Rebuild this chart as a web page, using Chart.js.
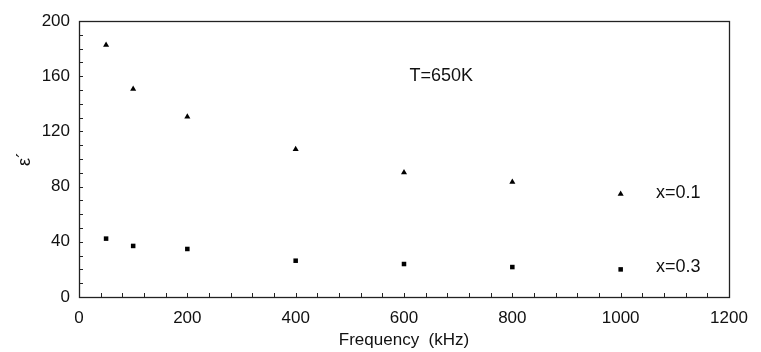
<!DOCTYPE html>
<html>
<head>
<meta charset="utf-8">
<script src="https://cdn.jsdelivr.net/npm/chart.js@4/dist/chart.umd.min.js"></script>
<style>
html,body{margin:0;padding:0;background:#fff;}
#wrap{width:761px;height:352px;position:relative;}
</style>
</head>
<body>
<div id="wrap"><canvas id="c" width="761" height="352"></canvas></div>
<script>
// Data
const frequencies = [50, 100, 200, 400, 600, 800, 1000];
const epsX01 = [182.6, 150.7, 130.6, 107, 90.3, 83.3, 74.6];
const epsX03 = [42.3, 37, 34.8, 26.3, 23.9, 21.7, 20];
const xTicks = [0, 200, 400, 600, 800, 1000, 1200];
const yTicks = [0, 40, 80, 120, 160, 200];
const annotations = [
  {text: 'T=650K', x: 610, y: 160},
  {text: 'x=0.1', x: 1065, y: 75},
  {text: 'x=0.3', x: 1065, y: 22}
];

const FONT = '"Liberation Sans", Arial, sans-serif';

const frameAndTicks = {
  id: 'frameAndTicks',
  afterDatasetsDraw(chart) {
    const {ctx, chartArea: a, scales: {x, y}} = chart;
    ctx.save();
    ctx.strokeStyle = '#222';
    ctx.lineWidth = 1;
    const L = 4;
    ctx.beginPath();
    for (let v = 0; v <= 1200; v += 40) {
      const px = Math.round(x.getPixelForValue(v)) + 0.5;
      ctx.moveTo(px, a.bottom);
      ctx.lineTo(px, a.bottom - L);
    }
    for (let v = 0; v <= 200; v += 10) {
      const py = Math.round(y.getPixelForValue(v)) + 0.5;
      ctx.moveTo(a.left, py);
      ctx.lineTo(a.left + L, py);
    }
    ctx.stroke();
    ctx.lineWidth = 1.3;
    ctx.strokeRect(Math.round(a.left) + 0.5, Math.round(a.top) + 0.5, Math.round(a.right - a.left), Math.round(a.bottom - a.top));
    ctx.fillStyle = '#111';
    ctx.font = '18px ' + FONT;
    ctx.textAlign = 'left';
    ctx.textBaseline = 'middle';
    annotations.forEach(t => {
      ctx.fillText(t.text, x.getPixelForValue(t.x), y.getPixelForValue(t.y));
    });
    ctx.restore();
  }
};

new Chart(document.getElementById('c'), {
  type: 'scatter',
  data: {
    datasets: [
      {
        label: 'x=0.1',
        data: frequencies.map((f, i) => ({x: f, y: epsX01[i]})),
        pointStyle: 'triangle',
        pointRadius: 3.5,
        backgroundColor: '#000',
        borderColor: '#000',
        borderWidth: 0
      },
      {
        label: 'x=0.3',
        data: frequencies.map((f, i) => ({x: f, y: epsX03[i]})),
        pointStyle: 'rect',
        pointRadius: 3.2,
        backgroundColor: '#000',
        borderColor: '#000',
        borderWidth: 0
      }
    ]
  },
  options: {
    responsive: false,
    animation: false,
    devicePixelRatio: 1,
    layout: {padding: {top: 21, right: 32, left: 0, bottom: 0}},
    plugins: {legend: {display: false}, tooltip: {enabled: false}},
    scales: {
      x: {
        type: 'linear',
        min: 0, max: 1200,
        afterBuildTicks: s => { s.ticks = xTicks.map(v => ({value: v})); },
        afterFit: s => { s.height = 55; },
        grid: {display: false, drawTicks: false},
        border: {display: false},
        ticks: {color: '#111', padding: 11, maxRotation: 0, font: {family: FONT, size: 17}, callback: v => String(v)},
        title: {display: true, text: 'Frequency  (kHz)', color: '#111', font: {family: FONT, size: 17}, padding: {top: 0, bottom: 1}}
      },
      y: {
        type: 'linear',
        min: 0, max: 200,
        afterBuildTicks: s => { s.ticks = yTicks.map(v => ({value: v})); },
        afterFit: s => { s.width = 79; },
        grid: {display: false, drawTicks: false},
        border: {display: false},
        ticks: {color: '#111', padding: 9, font: {family: FONT, size: 17}, callback: v => String(v)},
        title: {display: true, text: 'ε´', color: '#111', font: {family: FONT, size: 18}, padding: {top: 14, bottom: 0}}
      }
    }
  },
  plugins: [frameAndTicks]
});
</script>
</body>
</html>
